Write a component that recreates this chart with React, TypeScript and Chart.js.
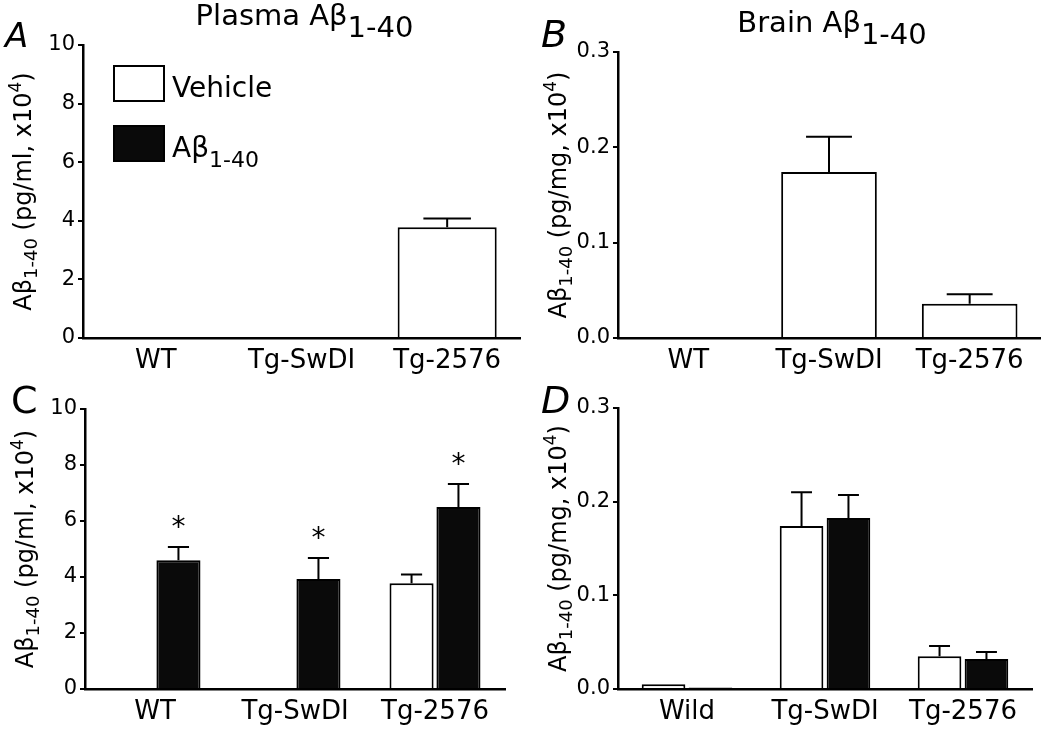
import React, { useEffect, useRef } from 'react';
import { Chart, registerables } from 'chart.js';

Chart.register(...registerables);

const FONT = "'DejaVu Sans', sans-serif";

// ---------- data ----------
const topGroups = ['WT', 'Tg-SwDI', 'Tg-2576'];
const plasmaGroups = ['WT', 'Tg-SwDI', 'Tg-2576'];
const brainGroups = ['Wild', 'Tg-SwDI', 'Tg-2576'];

// Panel A: plasma, vehicle only
const plasmaVehicleA = [null, null, 3.78];
const plasmaVehicleAErr = [null, null, 0.3];

// Panel B: brain, vehicle only
const brainVehicleB = [null, 0.174, 0.036];
const brainVehicleBErr = [null, 0.037, 0.01];

// Panel C: plasma, vehicle vs Aβ1-40
const plasmaVehicleC = [null, null, 3.78];
const plasmaVehicleCErr = [null, null, 0.31];
const plasmaAbetaC = [4.6, 3.93, 6.5];
const plasmaAbetaCErr = [0.47, 0.75, 0.82];
const plasmaAbetaCStars = ['*', '*', '*'];

// Panel D: brain, vehicle vs Aβ1-40
const brainVehicleD = [0.005, 0.174, 0.035];
const brainVehicleDErr = [null, 0.036, 0.011];
const brainAbetaD = [0.0015, 0.1825, 0.032];
const brainAbetaDErr = [null, 0.0245, 0.0075];

const plasmaAxis = { min: 0, max: 10, step: 2, decimals: 0 };
const brainAxis = { min: 0, max: 0.3, step: 0.1, decimals: 1 };

const seriesNames = ['Vehicle', 'Aβ1-40'];

// ---------- styling ----------
const W = 1050;
const H = 731;
const Y_W = 50;
const X_H = 40;
const VEH_FILL = '#ffffff';
const AB_FILL = '#0a0a0a';
const INK = '#000000';

type Part = { t: string; size: number; dy?: number; style?: string };

function richWidth(ctx: CanvasRenderingContext2D, parts: Part[]) {
  let w = 0;
  for (const p of parts) {
    ctx.font = `${p.style || ''} ${p.size}px ${FONT}`;
    w += ctx.measureText(p.t).width;
  }
  return w;
}

function drawRich(ctx: CanvasRenderingContext2D, parts: Part[], x: number, y: number, align: 'left' | 'center') {
  let cx = align === 'center' ? x - richWidth(ctx, parts) / 2 : x;
  ctx.textAlign = 'left';
  ctx.textBaseline = 'alphabetic';
  for (const p of parts) {
    ctx.font = `${p.style || ''} ${p.size}px ${FONT}`;
    ctx.fillText(p.t, cx, y + (p.dy || 0));
    cx += ctx.measureText(p.t).width;
  }
}

type Panel = {
  area: { left: number; top: number; right: number; bottom: number };
  labels: string[];
  axis: typeof plasmaAxis;
  datasets: any[];
  letter: string;
  letterItalic: boolean;
  letterSize: number;
  letterX: number;
  letterY: number;
  title?: string;
  unit: string;
  legend?: boolean;
  catPct: number;
  barPct: number;
};

const panels: Panel[] = [
  {
    area: { left: 83, top: 45, right: 520, bottom: 338 },
    labels: topGroups,
    axis: plasmaAxis,
    datasets: [
      { label: seriesNames[0], data: plasmaVehicleA, errors: plasmaVehicleAErr, backgroundColor: VEH_FILL },
    ],
    letter: 'A', letterItalic: true, letterSize: 34, letterX: 5, letterY: 47,
    title: 'Plasma Aβ', unit: 'pg/ml', legend: true, catPct: 0.68, barPct: 1,
  },
  {
    area: { left: 618, top: 52, right: 1040, bottom: 338 },
    labels: topGroups,
    axis: brainAxis,
    datasets: [
      { label: seriesNames[0], data: brainVehicleB, errors: brainVehicleBErr, backgroundColor: VEH_FILL },
    ],
    letter: 'B', letterItalic: true, letterSize: 38, letterX: 541, letterY: 47,
    title: 'Brain Aβ', unit: 'pg/mg', catPct: 0.68, barPct: 1,
  },
  {
    area: { left: 85, top: 409, right: 505, bottom: 689 },
    labels: plasmaGroups,
    axis: plasmaAxis,
    datasets: [
      { label: seriesNames[0], data: plasmaVehicleC, errors: plasmaVehicleCErr, backgroundColor: VEH_FILL },
      { label: seriesNames[1], data: plasmaAbetaC, errors: plasmaAbetaCErr, stars: plasmaAbetaCStars, backgroundColor: AB_FILL },
    ],
    letter: 'C', letterItalic: false, letterSize: 38, letterX: 11, letterY: 413,
    unit: 'pg/ml', catPct: 0.67, barPct: 0.94,
  },
  {
    area: { left: 618, top: 408, right: 1032, bottom: 689 },
    labels: brainGroups,
    axis: brainAxis,
    datasets: [
      { label: seriesNames[0], data: brainVehicleD, errors: brainVehicleDErr, backgroundColor: VEH_FILL },
      { label: seriesNames[1], data: brainAbetaD, errors: brainAbetaDErr, backgroundColor: AB_FILL },
    ],
    letter: 'D', letterItalic: true, letterSize: 38, letterX: 541, letterY: 413,
    unit: 'pg/mg', catPct: 0.68, barPct: 0.93,
  },
];

function makePlugin(p: Panel) {
  return {
    id: 'decor',
    afterDatasetsDraw(chart: any) {
      const ctx: CanvasRenderingContext2D = chart.ctx;
      const ys = chart.scales.y;
      chart.data.datasets.forEach((ds: any, di: number) => {
        const meta = chart.getDatasetMeta(di);
        meta.data.forEach((bar: any, i: number) => {
          const v = ds.data[i];
          const e = ds.errors ? ds.errors[i] : null;
          if (v == null || e == null) return;
          const { x, y, width } = bar.getProps(['x', 'y', 'width'], true);
          const yErr = ys.getPixelForValue(v + e);
          ctx.save();
          ctx.strokeStyle = INK;
          ctx.lineWidth = 2;
          ctx.beginPath();
          ctx.moveTo(x, y);
          ctx.lineTo(x, yErr);
          const cw = width * 0.48;
          ctx.moveTo(x - cw / 2, yErr);
          ctx.lineTo(x + cw / 2, yErr);
          ctx.stroke();
          if (ds.stars && ds.stars[i]) {
            ctx.fillStyle = INK;
            ctx.font = `28px ${FONT}`;
            ctx.textAlign = 'center';
            ctx.textBaseline = 'alphabetic';
            const m = ctx.measureText(ds.stars[i]);
            const centerY = yErr - 25;
            const base = centerY + (m.actualBoundingBoxAscent - m.actualBoundingBoxDescent) / 2;
            ctx.fillText(ds.stars[i], x, base);
          }
          ctx.restore();
        });
      });
    },
    afterDraw(chart: any) {
      const ctx: CanvasRenderingContext2D = chart.ctx;
      const a = chart.chartArea;
      ctx.save();
      ctx.fillStyle = INK;
      // panel letter
      ctx.font = `${p.letterItalic ? 'italic ' : ''}${p.letterSize}px ${FONT}`;
      ctx.textAlign = 'left';
      ctx.textBaseline = 'alphabetic';
      ctx.fillText(p.letter, p.letterX, p.letterY);
      // title
      if (p.title) {
        drawRich(ctx, [
          { t: p.title, size: 29 },
          { t: '1-40', size: 29, dy: 12 },
        ], (a.left + a.right) / 2 + 3, a.top - 20, 'center');
      }
      // y-axis title
      ctx.save();
      ctx.translate(a.left - 52, (a.top + a.bottom) / 2);
      ctx.rotate(-Math.PI / 2);
      drawRich(ctx, [
        { t: 'Aβ', size: 24 },
        { t: '1-40', size: 18, dy: 6 },
        { t: ` (${p.unit}, x10`, size: 24 },
        { t: '4', size: 17, dy: -10 },
        { t: ')', size: 24 },
      ], 0, 0, 'center');
      ctx.restore();
      // legend
      if (p.legend) {
        const bx = a.left + 31;
        const rows = [
          { y: a.top + 21, fill: VEH_FILL, parts: [{ t: seriesNames[0], size: 28 }] as Part[] },
          { y: a.top + 81, fill: AB_FILL, parts: [{ t: 'Aβ', size: 28 }, { t: '1-40', size: 22, dy: 10 }] as Part[] },
        ];
        for (const r of rows) {
          ctx.fillStyle = r.fill;
          ctx.fillRect(bx, r.y, 50, 35);
          ctx.strokeStyle = INK;
          ctx.lineWidth = 2;
          ctx.strokeRect(bx, r.y, 50, 35);
          ctx.fillStyle = INK;
          drawRich(ctx, r.parts, bx + 58, r.y + 31, 'left');
        }
      }
      ctx.restore();
    },
  };
}

function PanelChart({ p }: { p: Panel }) {
  const ref = useRef<HTMLCanvasElement>(null);
  useEffect(() => {
    if (!ref.current) return;
    const chart = new Chart(ref.current, {
      type: 'bar',
      data: {
        labels: p.labels,
        datasets: p.datasets.map((d) => ({
          ...d,
          borderColor: INK,
          borderWidth: 2,
          categoryPercentage: p.catPct,
          barPercentage: p.barPct,
        })),
      },
      options: {
        responsive: false,
        maintainAspectRatio: false,
        animation: false,
        devicePixelRatio: 1,
        events: [],
        layout: {
          padding: {
            left: p.area.left - Y_W,
            top: p.area.top,
            right: W - p.area.right,
            bottom: H - p.area.bottom - X_H,
          },
        },
        plugins: {
          legend: { display: false },
          title: { display: false },
          tooltip: { enabled: false },
        },
        scales: {
          x: {
            type: 'category',
            offset: true,
            grid: { display: false, drawTicks: false },
            border: { display: true, color: INK, width: 2.5 },
            ticks: { color: INK, font: { family: FONT, size: 26 }, padding: 8, maxRotation: 0, autoSkip: false },
            afterFit: (s: any) => { s.height = X_H; },
          },
          y: {
            type: 'linear',
            min: p.axis.min,
            max: p.axis.max,
            grid: { drawOnChartArea: false, drawTicks: true, tickLength: 5, color: INK, lineWidth: 2 },
            border: { display: true, color: INK, width: 2.5 },
            ticks: {
              stepSize: p.axis.step,
              color: INK,
              padding: 3,
              font: { family: FONT, size: 21 },
              callback: (v: any) => Number(v).toFixed(p.axis.decimals),
            },
            afterFit: (s: any) => { s.width = Y_W; },
          },
        },
      } as any,
      plugins: [makePlugin(p)],
    });
    return () => chart.destroy();
  }, [p]);
  return (
    <canvas
      ref={ref}
      width={W}
      height={H}
      style={{ position: 'absolute', left: 0, top: 0, width: W, height: H }}
    />
  );
}

export default function App() {
  return (
    <div style={{ position: 'fixed', left: 0, top: 0, width: W, height: H, background: '#fff', overflow: 'hidden' }}>
      {panels.map((p, i) => (
        <PanelChart key={i} p={p} />
      ))}
    </div>
  );
}
